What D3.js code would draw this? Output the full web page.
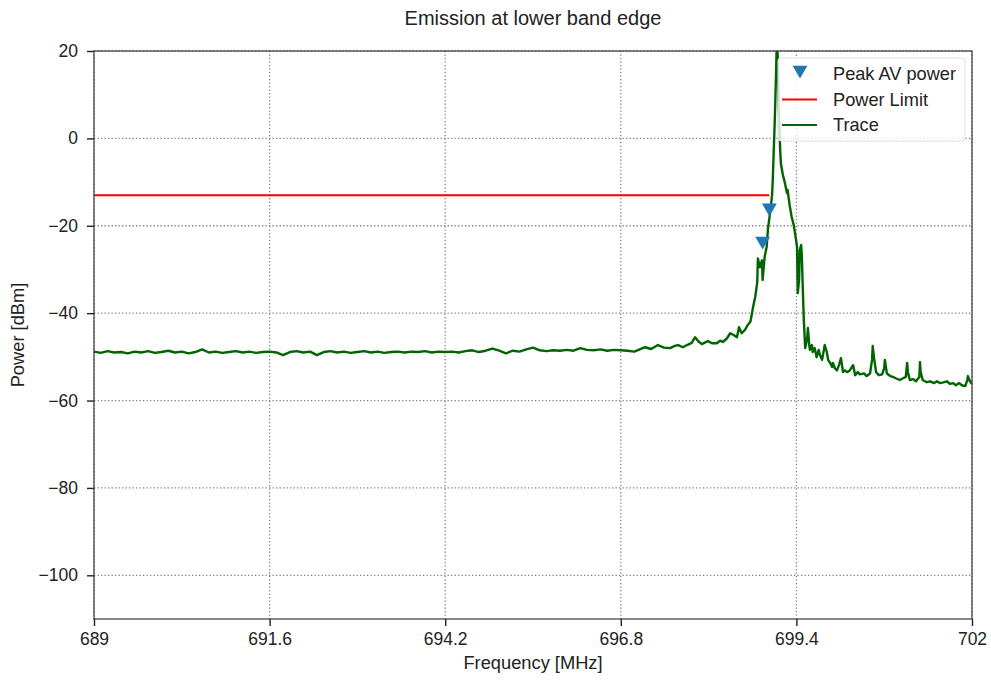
<!DOCTYPE html>
<html>
<head>
<meta charset="utf-8">
<script src="https://cdn.jsdelivr.net/npm/d3@7"></script>
<style>
  body { margin: 0; background: #fff; }
  text { font-family: "Liberation Sans", Arial, sans-serif; }
</style>
</head>
<body>
<div id="chart"></div>
<script>
// spectrum trace (MHz, dBm)
const traceFreq = [
  689.0, 689.1, 689.2, 689.3, 689.4, 689.5, 689.6, 689.7, 689.8, 689.9,
  690.0, 690.1, 690.2, 690.3, 690.4, 690.5, 690.6, 690.7, 690.8, 690.9,
  691.0, 691.1, 691.2, 691.3, 691.4, 691.5, 691.6, 691.7, 691.8, 691.9,
  692.0, 692.1, 692.2, 692.3, 692.4, 692.5, 692.6, 692.7, 692.8, 692.9,
  693.0, 693.1, 693.2, 693.3, 693.4, 693.5, 693.6, 693.7, 693.8, 693.9,
  694.0, 694.1, 694.2, 694.3, 694.4, 694.5, 694.6, 694.7, 694.8, 694.9,
  695.0, 695.1, 695.2, 695.3, 695.4, 695.5, 695.6, 695.7, 695.8, 695.9,
  696.0, 696.1, 696.2, 696.3, 696.4, 696.5, 696.6, 696.7, 696.8, 696.9,
  697.00, 697.08, 697.16, 697.25, 697.35, 697.44, 697.53, 697.60, 697.65, 697.72,
  697.78, 697.85, 697.90, 697.95, 698.00, 698.05, 698.09, 698.15, 698.22, 698.27,
  698.31, 698.37, 698.42, 698.47, 698.52, 698.55, 698.59, 698.64, 698.68, 698.72,
  698.76, 698.79, 698.82, 698.83, 698.86, 698.89, 698.90, 698.93, 698.96, 698.98,
  699.01, 699.04, 699.05, 699.08, 699.10, 699.11, 699.12, 699.14, 699.16, 699.17,
  699.18, 699.20, 699.23, 699.26, 699.27, 699.30, 699.33, 699.36, 699.38, 699.41,
  699.42, 699.44, 699.45, 699.47, 699.48, 699.50, 699.51, 699.53, 699.54, 699.56,
  699.57, 699.59, 699.60, 699.63, 699.64, 699.67, 699.70, 699.73, 699.75, 699.78,
  699.82, 699.85, 699.87, 699.90, 699.93, 699.94, 699.97, 700.00, 700.03, 700.06,
  700.09, 700.12, 700.15, 700.19, 700.24, 700.27, 700.31, 700.34, 700.40, 700.44,
  700.49, 700.52, 700.53, 700.55, 700.58, 700.62, 700.67, 700.70, 700.71, 700.74,
  700.79, 700.83, 700.87, 700.93, 700.98, 701.02, 701.04, 701.05, 701.08, 701.13,
  701.17, 701.22, 701.23, 701.24, 701.27, 701.33, 701.38, 701.44, 701.48, 701.53,
  701.59, 701.63, 701.67, 701.72, 701.76, 701.81, 701.85, 701.90, 701.93, 701.94,
  701.97, 702.00
];
const tracePower = [
  -48.8, -49.1, -48.7, -49.0, -48.9, -49.2, -48.8, -49.0, -48.7, -49.1,
  -48.9, -48.6, -49.0, -48.8, -49.2, -48.9, -48.3, -49.0, -48.8, -49.1,
  -48.9, -48.7, -49.0, -48.8, -49.1, -48.9, -48.8, -49.0, -49.6, -48.9,
  -48.7, -49.0, -48.8, -49.6, -48.9, -48.7, -49.0, -48.8, -49.1, -48.9,
  -48.7, -49.0, -48.8, -49.1, -48.9, -48.8, -49.0, -48.8, -48.9, -48.7,
  -49.0, -48.8, -48.9, -48.8, -49.0, -48.7, -48.5, -48.9, -48.6, -48.1,
  -48.6, -49.2, -48.6, -48.8, -48.3, -47.9, -48.5, -48.7, -48.5, -48.6,
  -48.4, -48.6, -48.0, -48.4, -48.5, -48.3, -48.6, -48.4, -48.5, -48.6,
  -48.8, -48.3, -47.8, -48.2, -47.3, -47.9, -48.0, -47.5, -47.3, -47.8,
  -47.3, -46.8, -45.5, -46.5, -47.1, -46.7, -46.4, -46.9, -46.9, -46.3,
  -46.6, -45.8, -44.6, -45.0, -45.5, -43.2, -44.6, -43.8, -42.7, -41.9,
  -38.5, -36.3, -33.0, -27.5, -29.5, -27.9, -32.4, -27.1, -24.8, -20.5,
  -17.1, -13.0, -9.5, 4.2, 15.6, 22.5, 20.7, 6.5, -2.7, -5.7,
  -6.6, -8.4, -10.2, -12.5, -11.8, -15.3, -18.0, -19.8, -21.7, -24.9,
  -35.4, -32.4, -25.6, -24.4, -26.7, -37.0, -41.6, -48.0, -47.3, -45.7,
  -43.4, -47.3, -48.4, -47.3, -48.9, -48.0, -50.1, -48.4, -49.6, -50.7,
  -47.3, -48.9, -50.7, -51.4, -52.3, -51.4, -52.6, -53.1, -51.9, -50.3,
  -53.5, -53.1, -53.5, -53.1, -51.9, -54.2, -53.5, -54.0, -53.8, -54.4,
  -53.8, -50.7, -47.5, -50.3, -53.5, -54.2, -54.0, -52.6, -50.7, -53.8,
  -54.4, -54.6, -54.9, -55.3, -54.9, -54.6, -51.4, -53.5, -55.3, -55.1,
  -55.6, -54.6, -51.2, -53.5, -55.3, -55.8, -55.6, -56.0, -55.6, -56.0,
  -55.8, -55.6, -56.2, -56.0, -56.5, -56.0, -56.5, -56.7, -55.3, -54.4,
  -55.6, -56.2
];
const peakFreq = [698.90, 699.00];
const peakPower = [-23.5, -15.9];
const limitFreq = [689.0, 699.0];
const limitPower = [-13, -13];
const xTicks = [689, 691.6, 694.2, 696.8, 699.4, 702];
const yTicks = [-100, -80, -60, -40, -20, 0, 20];
const legendLabels = ["Peak AV power", "Power Limit", "Trace"];

const width = 991, height = 680;
const margin = { top: 51, right: 19, bottom: 61, left: 94 };
const innerW = width - margin.left - margin.right;
const innerH = height - margin.top - margin.bottom;

const markerColor = "#1f77b4";
const limitColor = "#ff0000";
const traceColor = "#006400";
const textColor = "#222";

const svg = d3.select("#chart").append("svg")
  .attr("width", width)
  .attr("height", height);

const x = d3.scaleLinear().domain([689, 702]).range([0, innerW]);
const y = d3.scaleLinear().domain([-110, 20]).range([innerH, 0]);

const g = svg.append("g")
  .attr("transform", `translate(${margin.left},${margin.top})`);

g.append("clipPath").attr("id", "plot-clip")
  .append("rect").attr("width", innerW).attr("height", innerH);

// grid
g.append("g").selectAll("line").data(xTicks).join("line")
  .attr("x1", d => x(d)).attr("x2", d => x(d))
  .attr("y1", 0).attr("y2", innerH)
  .attr("stroke", "#808080").attr("stroke-width", 1.3)
  .attr("stroke-dasharray", "1.3,2.2");
g.append("g").selectAll("line").data(yTicks).join("line")
  .attr("x1", 0).attr("x2", innerW)
  .attr("y1", d => y(d)).attr("y2", d => y(d))
  .attr("stroke", "#808080").attr("stroke-width", 1.3)
  .attr("stroke-dasharray", "1.3,2.2");

// axes
const xAxis = g.append("g")
  .attr("transform", `translate(0,${innerH})`)
  .call(d3.axisBottom(x).tickValues(xTicks).tickFormat(d => String(d))
    .tickSize(7).tickSizeOuter(0).tickPadding(7));
const yAxis = g.append("g")
  .call(d3.axisLeft(y).tickValues(yTicks).tickSize(7).tickSizeOuter(0).tickPadding(9));

[xAxis, yAxis].forEach(a => {
  a.select(".domain").remove();
  a.selectAll(".tick line").attr("stroke", textColor).attr("stroke-width", 1.4);
  a.selectAll(".tick text")
    .style("font-family", '"Liberation Sans", Arial, sans-serif')
    .style("font-size", "17.5px")
    .attr("fill", textColor);
});

const plot = g.append("g").attr("clip-path", "url(#plot-clip)");

// power limit
plot.append("path")
  .datum(limitFreq.map((f, i) => [f, limitPower[i]]))
  .attr("d", d3.line().x(d => x(d[0])).y(d => y(d[1])))
  .attr("fill", "none")
  .attr("stroke", limitColor)
  .attr("stroke-width", 2);

// trace
plot.append("path")
  .datum(traceFreq.map((f, i) => [f, tracePower[i]]))
  .attr("d", d3.line().x(d => x(d[0])).y(d => y(d[1])))
  .attr("fill", "none")
  .attr("stroke", traceColor)
  .attr("stroke-width", 2.4)
  .attr("stroke-linejoin", "round");

// peak markers
const tri = d3.symbol().type(d3.symbolTriangle).size(95);
plot.selectAll(".peak").data(peakFreq).join("path")
  .attr("class", "peak")
  .attr("d", tri)
  .attr("transform", (d, i) => `translate(${x(d)},${y(peakPower[i])}) rotate(180)`)
  .attr("fill", markerColor);

// frame
g.append("rect")
  .attr("width", innerW).attr("height", innerH)
  .attr("fill", "none")
  .attr("stroke", "#3a3a3a")
  .attr("stroke-width", 1.2);

// legend
const legend = svg.append("g").attr("transform", "translate(778,58)");
legend.append("rect")
  .attr("width", 187).attr("height", 83).attr("rx", 3)
  .attr("fill", "#fff").attr("fill-opacity", 0.8)
  .attr("stroke", "#e0e0e0");
legendLabels.forEach((label, i) => {
  const cy = 16 + i * 25.5;
  if (i === 0) {
    legend.append("path").attr("d", tri)
      .attr("transform", `translate(22,${cy - 4}) rotate(180)`)
      .attr("fill", markerColor);
  } else {
    legend.append("line")
      .attr("x1", 4).attr("x2", 39).attr("y1", cy).attr("y2", cy)
      .attr("stroke", i === 1 ? limitColor : traceColor)
      .attr("stroke-width", 2);
  }
  legend.append("text")
    .attr("x", 55).attr("y", cy).attr("dy", "0.35em")
    .style("font-size", "18.2px")
    .attr("fill", textColor)
    .text(label);
});

// titles
svg.append("text")
  .attr("x", margin.left + innerW / 2).attr("y", 25)
  .attr("text-anchor", "middle")
  .style("font-size", "20px")
  .attr("fill", textColor)
  .text("Emission at lower band edge");

svg.append("text")
  .attr("x", margin.left + innerW / 2).attr("y", 669)
  .attr("text-anchor", "middle")
  .style("font-size", "18.3px")
  .attr("fill", textColor)
  .text("Frequency [MHz]");

svg.append("text")
  .attr("transform", `translate(24,${margin.top + innerH / 2}) rotate(-90)`)
  .attr("text-anchor", "middle")
  .style("font-size", "18.3px")
  .attr("fill", textColor)
  .text("Power [dBm]");
</script>
</body>
</html>
